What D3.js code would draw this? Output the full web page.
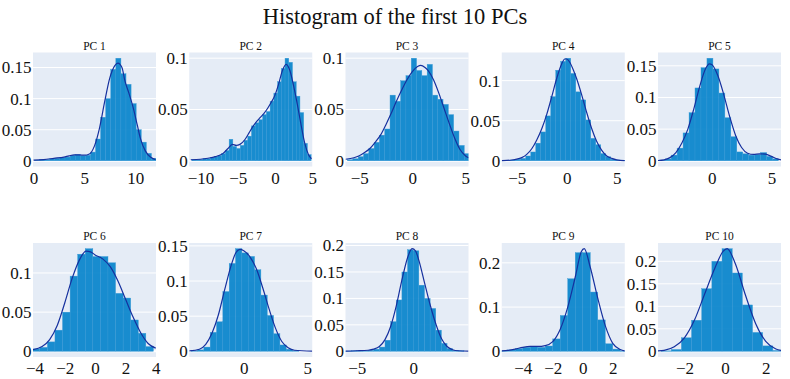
<!DOCTYPE html>
<html>
<head>
<meta charset="utf-8">
<script src="https://cdn.jsdelivr.net/npm/d3@7"></script>
<style>
  html, body { margin: 0; padding: 0; background: #fff; }
  svg { display: block; }
</style>
</head>
<body>
<script>
// ---------------- DATA ----------------
const chartTitle = "Histogram of the first 10 PCs";
const panelTitles = ["PC 1", "PC 2", "PC 3", "PC 4", "PC 5", "PC 6", "PC 7", "PC 8", "PC 9", "PC 10"];

const binSize = 0.5;
const binStarts = [0.1, -11.15, -6.1, -6.1, -4.4, -4.15, -4.15, -6.0, -5.5, -3.15];

const hist1 = [0.001, 0.002, 0.002, 0.003, 0.004, 0.005, 0.006, 0.009, 0.010, 0.008, 0.009, 0.014,
               0.035, 0.070, 0.100, 0.147, 0.165, 0.140, 0.123, 0.092, 0.050, 0.030, 0.012, 0.004];
const hist2 = [0.001, 0.001, 0.001, 0.002, 0.002, 0.003, 0.004, 0.005, 0.007, 0.010, 0.021, 0.014,
               0.012, 0.015, 0.020, 0.024, 0.034, 0.037, 0.040, 0.045, 0.048, 0.058, 0.066, 0.077,
               0.090, 0.100, 0.096, 0.077, 0.063, 0.047, 0.017, 0.006];
const hist3 = [0.001, 0.002, 0.004, 0.007, 0.012, 0.018, 0.025, 0.031, 0.064, 0.058, 0.078, 0.083,
               0.100, 0.088, 0.083, 0.094, 0.064, 0.060, 0.055, 0.045, 0.029, 0.015, 0.007];
const hist4 = [0.0005, 0.001, 0.002, 0.003, 0.006, 0.011, 0.022, 0.036, 0.056, 0.080, 0.113, 0.124,
               0.128, 0.109, 0.086, 0.076, 0.051, 0.028, 0.020, 0.009, 0.005, 0.002, 0.001, 0.0005];
const hist5 = [0.001, 0.003, 0.009, 0.020, 0.044, 0.076, 0.115, 0.147, 0.162, 0.145, 0.107, 0.068,
               0.038, 0.014, 0.011, 0.009, 0.010, 0.013, 0.007, 0.003];
const hist6 = [0.003, 0.005, 0.012, 0.027, 0.050, 0.096, 0.124, 0.131, 0.121, 0.121, 0.113, 0.074,
               0.068, 0.040, 0.023, 0.006];
const hist7 = [0.001, 0.002, 0.006, 0.027, 0.042, 0.085, 0.125, 0.146, 0.140, 0.135, 0.116, 0.080,
               0.051, 0.025, 0.009, 0.003, 0.001];
const hist8 = [0.0005, 0.001, 0.001, 0.001, 0.002, 0.004, 0.008, 0.021, 0.056, 0.097, 0.150, 0.192,
               0.190, 0.125, 0.100, 0.081, 0.040, 0.015, 0.005, 0.002, 0.001];
const hist9 = [0.001, 0.003, 0.006, 0.009, 0.010, 0.009, 0.012, 0.028, 0.081, 0.164, 0.223, 0.223,
               0.134, 0.071, 0.017, 0.005, 0.001];
const hist10 = [0.001, 0.004, 0.030, 0.069, 0.139, 0.200, 0.228, 0.174, 0.103, 0.042, 0.012, 0.002];

const kde1 = [[0,0.001],[1,0.002],[2,0.004],[3,0.006],[3.5,0.008],[4,0.0095],[4.5,0.0095],[5,0.009],
              [5.5,0.011],[6,0.024],[6.5,0.053],[7,0.095],[7.5,0.133],[8,0.153],[8.3,0.157],[8.7,0.150],
              [9,0.128],[9.4,0.108],[9.8,0.086],[10.2,0.058],[10.5,0.037],[11,0.016],[11.5,0.006],[12,0.002]];
const kde2 = [[-11.3,0.001],[-10,0.0015],[-9,0.0025],[-8,0.004],[-7,0.007],[-6.3,0.012],[-5.7,0.016],
              [-5.2,0.015],[-4.7,0.016],[-4,0.021],[-3.5,0.027],[-3,0.033],[-2.5,0.038],[-2,0.042],
              [-1.5,0.046],[-1,0.051],[-0.5,0.057],[0,0.064],[0.5,0.075],[1,0.088],[1.5,0.094],[2,0.088],
              [2.5,0.073],[3,0.055],[3.5,0.035],[4,0.017],[4.5,0.006],[4.9,0.002]];
const kde3 = [[-6.3,0.0015],[-5.5,0.003],[-5,0.005],[-4.5,0.008],[-4,0.012],[-3.5,0.018],[-3,0.025],
              [-2.5,0.035],[-2,0.046],[-1.5,0.058],[-1,0.069],[-0.5,0.079],[0,0.087],[0.5,0.092],
              [0.8,0.093],[1.2,0.091],[1.5,0.088],[2,0.079],[2.5,0.066],[3,0.051],[3.5,0.036],[4,0.022],
              [4.5,0.011],[5,0.005],[5.3,0.003]];
const kde4 = [[-6.5,0.0003],[-5.5,0.001],[-5,0.002],[-4.5,0.004],[-4,0.008],[-3.5,0.015],[-3,0.026],
              [-2.5,0.040],[-2,0.058],[-1.5,0.080],[-1,0.103],[-0.5,0.121],[-0.2,0.127],[0,0.127],
              [0.3,0.123],[0.7,0.112],[1,0.102],[1.5,0.082],[2,0.060],[2.5,0.040],[3,0.024],[3.5,0.013],
              [4,0.006],[4.5,0.003],[5,0.0012],[5.8,0.0003]];
const kde5 = [[-4.5,0.0005],[-4,0.0015],[-3.5,0.005],[-3,0.013],[-2.5,0.028],[-2,0.050],[-1.5,0.082],
              [-1,0.118],[-0.5,0.146],[-0.2,0.153],[0,0.152],[0.5,0.135],[1,0.105],[1.5,0.070],[2,0.040],
              [2.5,0.021],[3,0.012],[3.5,0.010],[4,0.011],[4.5,0.0105],[5,0.007],[5.5,0.003],[5.8,0.0015]];
const kde6 = [[-4.1,0.002],[-3.5,0.006],[-3,0.015],[-2.5,0.033],[-2,0.062],[-1.5,0.094],[-1,0.118],
              [-0.6,0.128],[-0.3,0.127],[0,0.123],[0.5,0.118],[1,0.108],[1.5,0.090],[2,0.067],[2.5,0.044],
              [3,0.024],[3.5,0.010],[4,0.004]];
const kde7 = [[-4.3,0.0005],[-3.5,0.003],[-3,0.010],[-2.5,0.026],[-2,0.052],[-1.5,0.088],[-1,0.122],
              [-0.6,0.141],[-0.3,0.145],[0,0.143],[0.5,0.134],[1,0.117],[1.5,0.090],[2,0.060],[2.5,0.033],
              [3,0.014],[3.5,0.005],[4,0.0015],[5.4,0.0002]];
const kde8 = [[-6,0.0005],[-5,0.001],[-4,0.002],[-3.5,0.004],[-3,0.009],[-2.5,0.022],[-2,0.047],
              [-1.5,0.086],[-1,0.135],[-0.5,0.177],[-0.1,0.194],[0.2,0.190],[0.5,0.172],[1,0.130],
              [1.5,0.088],[2,0.052],[2.5,0.024],[3,0.009],[3.5,0.003],[4,0.001],[4.9,0.0003]];
const kde9 = [[-5.4,0.001],[-5,0.002],[-4.5,0.005],[-4,0.009],[-3.5,0.011],[-3,0.011],[-2.5,0.013],
              [-2,0.022],[-1.5,0.050],[-1,0.100],[-0.5,0.168],[-0.1,0.225],[0.1,0.232],[0.5,0.190],
              [1,0.120],[1.5,0.058],[2,0.018],[2.5,0.004],[2.8,0.001]];
const kde10 = [[-3.3,0.0008],[-3,0.002],[-2.5,0.010],[-2,0.030],[-1.5,0.070],[-1,0.128],[-0.5,0.185],
               [-0.1,0.222],[0.1,0.228],[0.5,0.195],[1,0.125],[1.5,0.062],[2,0.022],[2.5,0.005],[2.75,0.002]];

const xRanges = [[-0.05,12.05],[-11.5,5.0],[-6.3,5.3],[-6.5,5.8],[-4.5,5.8],
                 [-4.1,4.02],[-4.3,5.4],[-6.0,4.9],[-5.4,2.8],[-3.3,2.75]];
const xTicks = [[0,5,10],[-10,-5,0,5],[-5,0,5],[-5,0,5],[0,5],
                [-4,-2,0,2,4],[0,5],[-5,0],[-4,-2,0,2],[-2,0,2]];
const yTicks = [[0,0.05,0.1,0.15],[0,0.05,0.1],[0,0.05,0.1],[0,0.05,0.1],[0,0.05,0.1,0.15],
                [0,0.05,0.1],[0,0.05,0.1,0.15],[0,0.05,0.1,0.15,0.2],[0,0.1,0.2],[0,0.05,0.1,0.15,0.2]];

const histValues = [hist1, hist2, hist3, hist4, hist5, hist6, hist7, hist8, hist9, hist10];
const kdeCurves = [kde1, kde2, kde3, kde4, kde5, kde6, kde7, kde8, kde9, kde10];

// ---------------- LAYOUT / STYLE ----------------
const W = 790, H = 379;
const FONT = "'Liberation Serif', 'Times New Roman', Times, serif";
const plotLeft = 33, colStep = 156.25, panelW = 123;
const rowTops = [52.5, 243], panelH = 114;
const BG = "#E5ECF6", BAR = "#0984cb", LINE = "#15309e", TXT = "#111";

const fmt = d => d < 0 ? "\u2212" + (-d) : String(d);

const svg = d3.select("body").append("svg").attr("width", W).attr("height", H);
svg.append("rect").attr("width", W).attr("height", H).attr("fill", "#fff");

svg.append("text")
  .attr("x", W / 2).attr("y", 24)
  .attr("text-anchor", "middle")
  .attr("font-family", FONT).attr("font-size", 22.5)
  .attr("fill", TXT)
  .text(chartTitle);

const defs = svg.append("defs");

const panels = d3.range(10).map(i => {
  const r = Math.floor(i / 5), c = i % 5;
  const x0 = plotLeft + c * colStep, y0 = rowTops[r];
  const M = Math.max(d3.max(histValues[i]), d3.max(kdeCurves[i], d => d[1]));
  const x = d3.scaleLinear().domain(xRanges[i]).range([x0, x0 + panelW]);
  const y = d3.scaleLinear().domain([-M * 0.05 / 0.9, M * 0.95 / 0.9]).range([y0 + panelH, y0]);
  return { i, r, c, x0, y0, x, y };
});

// pass 1: backgrounds, grid, marks
panels.forEach(p => {
  const g = svg.append("g");
  defs.append("clipPath").attr("id", "clip" + p.i)
    .append("rect").attr("x", p.x0).attr("y", p.y0).attr("width", panelW).attr("height", panelH);

  g.append("rect").attr("x", p.x0).attr("y", p.y0).attr("width", panelW).attr("height", panelH)
    .attr("fill", BG);

  g.selectAll("line.grid").data(yTicks[p.i]).join("line")
    .attr("class", "grid")
    .attr("x1", p.x0).attr("x2", p.x0 + panelW)
    .attr("y1", d => p.y(d)).attr("y2", d => p.y(d))
    .attr("stroke", "#fff").attr("stroke-width", d => d === 0 ? 2 : 1);

  const bins = histValues[p.i].map((v, k) => ({
    a: binStarts[p.i] + k * binSize, b: binStarts[p.i] + (k + 1) * binSize, v
  }));
  const cg = g.append("g").attr("clip-path", `url(#clip${p.i})`);
  cg.selectAll("rect.bar").data(bins).join("rect")
    .attr("class", "bar")
    .attr("x", d => p.x(d.a))
    .attr("width", d => p.x(d.b) - p.x(d.a))
    .attr("y", d => p.y(d.v))
    .attr("height", d => p.y(0) - p.y(d.v))
    .attr("fill", BAR).attr("fill-opacity", 0.93)
    .attr("stroke", "#3a9ad6").attr("stroke-width", 0.4);

  const line = d3.line().x(d => p.x(d[0])).y(d => p.y(d[1])).curve(d3.curveMonotoneX);
  cg.append("path").datum(kdeCurves[p.i])
    .attr("d", line).attr("fill", "none")
    .attr("stroke", LINE).attr("stroke-width", 1.2);
});

// pass 2: axes labels and subplot titles
panels.forEach(p => {
  const xa = svg.append("g")
    .attr("transform", `translate(0,${p.y0 + panelH})`)
    .call(d3.axisBottom(p.x).tickValues(xTicks[p.i]).tickFormat(fmt).tickSize(0).tickPadding(5));
  const ya = svg.append("g")
    .attr("transform", `translate(${p.x0},0)`)
    .call(d3.axisLeft(p.y).tickValues(yTicks[p.i]).tickFormat(fmt).tickSize(0).tickPadding(1.5));
  [xa, ya].forEach(a => {
    a.select(".domain").remove();
    a.selectAll(".tick line").remove();
    a.attr("font-family", FONT).attr("font-size", 17).attr("color", TXT);
  });

  svg.append("text")
    .attr("x", p.x0 + panelW / 2).attr("y", p.y0 - 3)
    .attr("text-anchor", "middle")
    .attr("font-family", FONT).attr("font-size", 11.5)
    .attr("fill", TXT)
    .text(panelTitles[p.i]);
});
</script>
</body>
</html>
